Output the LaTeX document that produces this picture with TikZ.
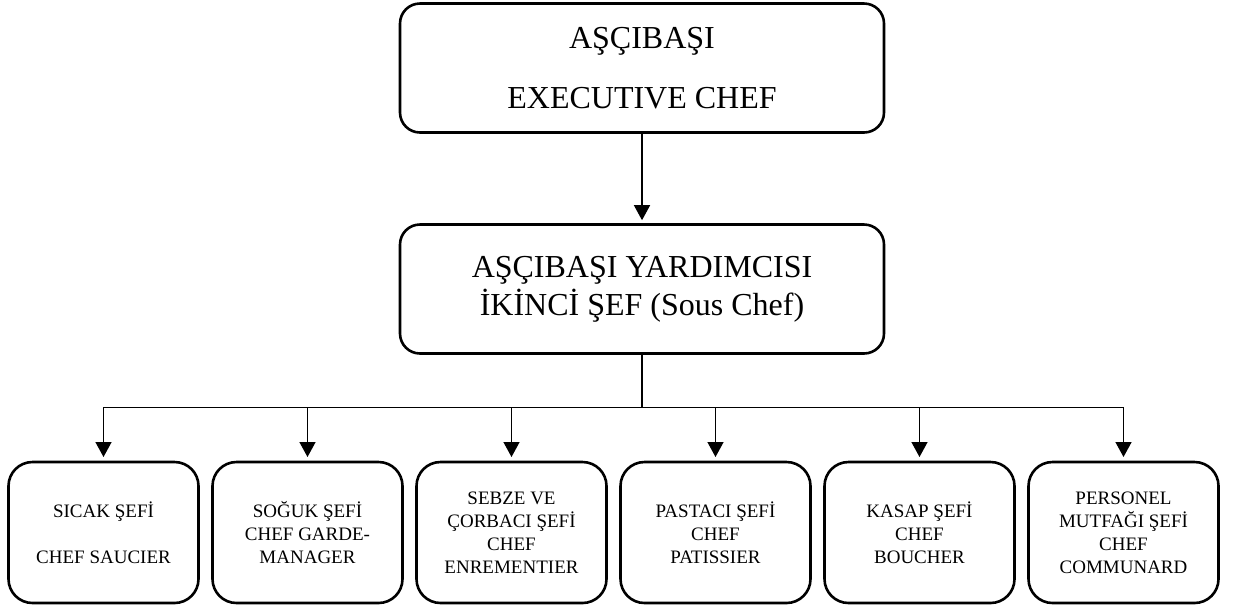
\documentclass[tikz,border=0pt]{standalone}
\usepackage{fontspec}
\setmainfont{Liberation Serif}
\usetikzlibrary{arrows.meta,chains,positioning}

\begin{document}
\begin{tikzpicture}[
node distance=7pt,
 start chain = S going right,
    T/.style = {rectangle, draw, rounded corners=10pt,% styles of the two upper boxes
                minimum width=242pt, minimum height=64.5pt,
                line width=1.3pt, align=center,
                font=\fontsize{16}{19}\selectfont},
    B/.style = {rectangle, draw, rounded corners=12pt,% styles of boxes in row (chain)
                minimum width=95pt, minimum height=70.5pt,
                line width=1.3pt, align=center, outer sep=0pt, on chain,
                font=\fontsize{9.5}{11.5}\selectfont},
    L/.style = {line width=0.7pt},
    A/.style = {L, -{Triangle[width=8pt,length=7.5pt]}, shorten >=1.5pt},
                        ]
\useasboundingbox (0,0) rectangle (617.5pt,-303.5pt);
\node[T] (head) at (321pt,-34pt) {AŞÇIBAŞI\\[11pt]EXECUTIVE CHEF};
\node[T] (sous) at (321pt,-144.5pt) {AŞÇIBAŞI YARDIMCISI\\İKİNCİ ŞEF (Sous Chef)};
\node[B] at (51.75pt,-266.25pt) {SICAK ŞEFİ\\[11.5pt]CHEF SAUCIER};
\foreach \i in {{SOĞUK ŞEFİ\\CHEF GARDE-\\MANAGER},
                {SEBZE VE\\ÇORBACI ŞEFİ\\CHEF\\ENREMENTIER},
                {PASTACI ŞEFİ\\CHEF\\PATISSIER},
                {KASAP ŞEFİ\\CHEF\\BOUCHER},
                {PERSONEL\\MUTFAĞI ŞEFİ\\CHEF\\COMMUNARD}}% <-- content of nodes
    \node[B] {\i};
\coordinate[below=26.25pt of sous] (bus);
\draw[A] (head) -- (sous);
\draw[L] (sous) -- (bus);
\draw[L] (S-1.north |- bus) -- (S-6.north |- bus);
\foreach \j in {1,...,6}
    \draw[A, shorten >=2.5pt] (S-\j.north |- bus) -- (S-\j);
\end{tikzpicture}
\end{document}
